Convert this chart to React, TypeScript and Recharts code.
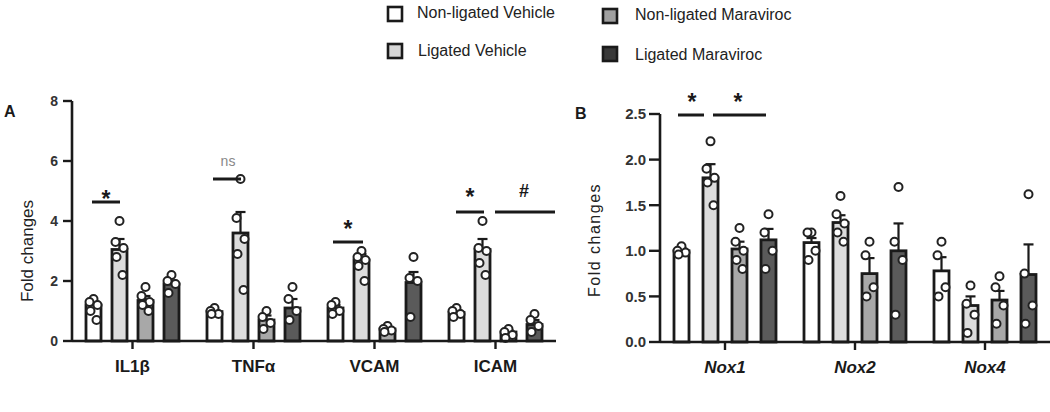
import React from 'react';
import { BarChart, Bar, XAxis, YAxis } from 'recharts';

// ---------- Data ----------
const seriesNames = ['Non-ligated Vehicle', 'Ligated Vehicle', 'Non-ligated Maraviroc', 'Ligated Maraviroc'];
const seriesKeys = ['nlv', 'lv', 'nlm', 'lm'];

// Panel A
const catA = ['IL1β', 'TNFα', 'VCAM', 'ICAM'];
const meanA_nlv = [1.2, 0.98, 1.1, 0.95];
const meanA_lv = [3.05, 3.6, 2.7, 3.05];
const meanA_nlm = [1.35, 0.7, 0.4, 0.3];
const meanA_lm = [1.9, 1.1, 1.95, 0.55];
const semA_nlv = [0.12, 0.05, 0.1, 0.08];
const semA_lv = [0.35, 0.7, 0.2, 0.35];
const semA_nlm = [0.15, 0.15, 0.05, 0.06];
const semA_lm = [0.12, 0.3, 0.35, 0.15];
const ptsA_nlv = [[1.4, 1.3, 1.2, 1.0, 0.7], [1.1, 1.0, 0.9, 0.9], [1.3, 1.2, 1.0, 0.9], [1.1, 1.0, 0.9, 0.8]];
const ptsA_lv = [[4.0, 3.3, 3.1, 2.8, 2.2], [5.4, 4.1, 3.4, 2.9, 1.7], [3.0, 2.8, 2.7, 2.5, 2.0], [4.0, 3.1, 3.0, 2.6, 2.2]];
const ptsA_nlm = [[1.8, 1.5, 1.3, 1.2, 1.0], [1.0, 0.8, 0.6, 0.4], [0.5, 0.4, 0.35, 0.3], [0.4, 0.3, 0.2, 0.1]];
const ptsA_lm = [[2.2, 2.0, 1.9, 1.6], [1.8, 1.4, 1.0, 0.7], [2.8, 2.1, 2.0, 0.8], [0.9, 0.7, 0.5, 0.3]];
const ticksA = [0, 2, 4, 6, 8];

// Panel B
const catB = ['Nox1', 'Nox2', 'Nox4'];
const meanB_nlv = [1.0, 1.09, 0.78];
const meanB_lv = [1.8, 1.31, 0.4];
const meanB_nlm = [1.02, 0.75, 0.46];
const meanB_lm = [1.12, 1.0, 0.74];
const semB_nlv = [0.03, 0.05, 0.15];
const semB_lv = [0.15, 0.08, 0.1];
const semB_nlm = [0.08, 0.17, 0.1];
const semB_lm = [0.12, 0.3, 0.33];
const ptsB_nlv = [[1.05, 1.0, 0.98, 0.96], [1.2, 1.2, 1.0, 0.9], [1.1, 0.95, 0.6, 0.5]];
const ptsB_lv = [[2.2, 1.9, 1.8, 1.75, 1.5], [1.6, 1.4, 1.3, 1.2, 1.1], [0.62, 0.42, 0.3, 0.1]];
const ptsB_nlm = [[1.25, 1.1, 1.0, 0.9, 0.8], [1.1, 0.95, 0.6, 0.5], [0.72, 0.6, 0.4, 0.2]];
const ptsB_lm = [[1.4, 1.2, 1.0, 0.8], [1.7, 1.1, 0.9, 0.3], [1.62, 0.75, 0.4, 0.2]];
const ticksB = [0, 0.5, 1.0, 1.5, 2.0, 2.5];

// ---------- Styles ----------
const barFills = ['#ffffff', '#dcdcdc', '#a8a8a8', '#5a5a5a'];
const legendFills = ['#ffffff', '#d6d6d6', '#a0a0a0', '#383838'];
const INK = '#1a1a1a';
const FONT = '"Liberation Sans", Arial, sans-serif';
const dotOffsets = [0, -4, 4, -3, 3, 0];

const buildRows = (cats: string[], means: number[][], sems: number[][], pts: number[][][]) =>
  cats.map((c, i) => {
    const row: any = { cat: c };
    seriesKeys.forEach((k, s) => {
      row[k] = means[s][i];
      row[k + 'Sem'] = sems[s][i];
      row[k + 'Pts'] = pts[s][i];
    });
    return row;
  });

const dataA = buildRows(
  catA,
  [meanA_nlv, meanA_lv, meanA_nlm, meanA_lm],
  [semA_nlv, semA_lv, semA_nlm, semA_lm],
  [ptsA_nlv, ptsA_lv, ptsA_nlm, ptsA_lm]
);
const dataB = buildRows(
  catB,
  [meanB_nlv, meanB_lv, meanB_nlm, meanB_lm],
  [semB_nlv, semB_lv, semB_nlm, semB_lm],
  [ptsB_nlv, ptsB_lv, ptsB_nlm, ptsB_lm]
);

const makeShape = (key: string, fill: string) => (props: any) => {
  const { x, y, width, height, payload } = props;
  const value = payload[key];
  const base = y + height;
  const ppu = value ? height / value : 0;
  const cx = x + width / 2;
  const sem = payload[key + 'Sem'];
  const pts: number[] = payload[key + 'Pts'] || [];
  const errTop = base - (value + sem) * ppu;
  return (
    <g>
      <rect x={x} y={y} width={width} height={height} fill={fill} stroke={INK} strokeWidth={2.8} />
      <line x1={cx} x2={cx} y1={y} y2={errTop} stroke={INK} strokeWidth={2.2} />
      <line x1={cx - 5} x2={cx + 5} y1={errTop} y2={errTop} stroke={INK} strokeWidth={2.2} />
      {pts.map((p, i) => (
        <circle
          key={i}
          cx={cx + dotOffsets[i % dotOffsets.length]}
          cy={base - p * ppu}
          r={4}
          fill="#ffffff"
          stroke="#222"
          strokeWidth={2}
        />
      ))}
    </g>
  );
};

const XTick = (italic: boolean) => (props: any) => {
  const { x, y, payload } = props;
  return (
    <text
      x={x}
      y={y}
      dy={21}
      textAnchor="middle"
      fontFamily={FONT}
      fontSize={17}
      fontWeight="bold"
      fontStyle={italic ? 'italic' : 'normal'}
      fill={INK}
    >
      {payload.value}
    </text>
  );
};

const axisLine = { stroke: INK, strokeWidth: 2.6 };
const tickLine = { stroke: INK, strokeWidth: 2.4 };

const Star = ({ x, y, size = 23 }: { x: number; y: number; size?: number }) => (
  <text x={x} y={y} textAnchor="middle" fontFamily={FONT} fontWeight="bold" fontSize={size} fill={INK}>
    *
  </text>
);

const App = () => {
  return (
    <div style={{ position: 'absolute', left: 0, top: 0, width: 1050, height: 412, background: '#fff' }}>
      <div style={{ position: 'absolute', left: 0, top: 0 }}>
        <BarChart
          width={560}
          height={412}
          data={dataA}
          margin={{ top: 101, right: 4, bottom: 41, left: 32 }}
          barSize={15}
          barGap={11}
        >
          <XAxis
            dataKey="cat"
            axisLine={axisLine}
            tickLine={tickLine}
            tickSize={8}
            tick={XTick(false)}
            interval={0}
          />
          <YAxis
            width={40}
            domain={[0, 8]}
            ticks={ticksA}
            interval={0}
            axisLine={axisLine}
            tickLine={tickLine}
            tickSize={9}
            tickMargin={5}
            tick={{ fill: '#333', fontSize: 14, fontWeight: 'bold', fontFamily: FONT }}
          />
          {seriesKeys.map((k, s) => (
            <Bar key={k} dataKey={k} name={seriesNames[s]} isAnimationActive={false} shape={makeShape(k, barFills[s])} />
          ))}
        </BarChart>
      </div>
      <div style={{ position: 'absolute', left: 560, top: 0 }}>
        <BarChart
          width={490}
          height={412}
          data={dataB}
          margin={{ top: 114, right: 0, bottom: 40, left: 50 }}
          barSize={15}
          barGap={14}
        >
          <XAxis
            dataKey="cat"
            axisLine={axisLine}
            tickLine={tickLine}
            tickSize={8}
            tick={XTick(true)}
            interval={0}
          />
          <YAxis
            width={50}
            domain={[0, 2.5]}
            ticks={ticksB}
            interval={0}
            axisLine={axisLine}
            tickLine={tickLine}
            tickSize={11}
            tickMargin={3}
            tickFormatter={(v: number) => v.toFixed(1)}
            tick={{ fill: '#333', fontSize: 15, fontWeight: 'bold', fontFamily: FONT }}
          />
          {seriesKeys.map((k, s) => (
            <Bar key={k} dataKey={k} name={seriesNames[s]} isAnimationActive={false} shape={makeShape(k, barFills[s])} />
          ))}
        </BarChart>
      </div>
      <svg
        width={1050}
        height={412}
        style={{ position: 'absolute', left: 0, top: 0, pointerEvents: 'none' }}
      >
        {/* legend */}
        {[
          { x: 388, y: 7, ty: 18, tx: 417 },
          { x: 388, y: 44, ty: 56, tx: 418 },
          { x: 603, y: 9, ty: 20, tx: 635 },
          { x: 603, y: 47, ty: 60, tx: 635 },
        ].map((p, i) => (
          <g key={i}>
            <rect x={p.x} y={p.y} width={14} height={14} fill={legendFills[i]} stroke={INK} strokeWidth={2.6} />
            <text x={p.tx} y={p.ty} fontFamily={FONT} fontSize={16} fill="#222">
              {seriesNames[i]}
            </text>
          </g>
        ))}

        {/* panel letters */}
        <text x={4} y={117} fontFamily={FONT} fontWeight="bold" fontSize={16} fill={INK}>A</text>
        <text x={575} y={119} fontFamily={FONT} fontWeight="bold" fontSize={16} fill={INK}>B</text>

        {/* y labels */}
        <text
          transform="translate(33,251) rotate(-90)"
          textAnchor="middle"
          fontFamily={FONT}
          fontSize={17}
          fill="#222"
        >
          Fold changes
        </text>
        <text
          transform="translate(600,240) rotate(-90)"
          textAnchor="middle"
          fontFamily={FONT}
          fontSize={16}
          letterSpacing={1.5}
          fill="#222"
        >
          Fold changes
        </text>

        {/* significance annotations panel A */}
        <line x1={92} x2={120} y1={202} y2={202} stroke={INK} strokeWidth={3} />
        <Star x={106} y={207} />
        <line x1={213} x2={241} y1={179} y2={179} stroke={INK} strokeWidth={3} />
        <text x={228} y={166} textAnchor="middle" fontFamily={FONT} fontSize={14} fill="#888">ns</text>
        <line x1={333} x2={363} y1={242} y2={242} stroke={INK} strokeWidth={3} />
        <Star x={348} y={237} />
        <line x1={456} x2={484} y1={212} y2={212} stroke={INK} strokeWidth={3} />
        <Star x={470} y={205} />
        <line x1={495} x2={555} y1={212} y2={212} stroke={INK} strokeWidth={3} />
        <text x={524} y={197} textAnchor="middle" fontFamily={FONT} fontWeight="bold" fontSize={18} fill={INK}>#</text>

        {/* significance annotations panel B */}
        <line x1={678} x2={704} y1={115} y2={115} stroke={INK} strokeWidth={3} />
        <Star x={692} y={110} />
        <line x1={713} x2={766} y1={115} y2={115} stroke={INK} strokeWidth={3} />
        <Star x={738} y={110} />
      </svg>
    </div>
  );
};

export default App;
